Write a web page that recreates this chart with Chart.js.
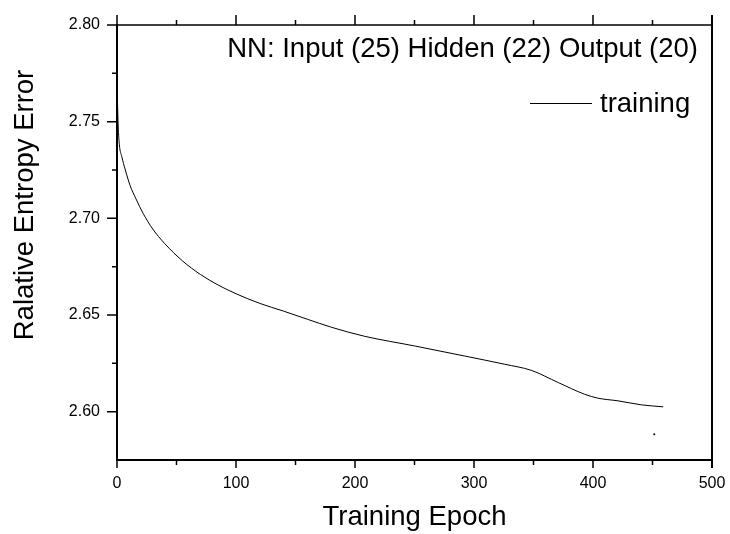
<!DOCTYPE html>
<html>
<head>
<meta charset="utf-8">
<script src="https://cdn.jsdelivr.net/npm/chart.js@4/dist/chart.umd.min.js"></script>
<style>
html,body{margin:0;padding:0;background:#fff;}
#wrap{width:730px;height:534px;}
</style>
</head>
<body>
<div id="wrap"><canvas id="c" width="730" height="534"></canvas></div>
<script>
// ---- data ----
const epochs = [0, 1, 2, 4, 7, 11, 16, 22, 30, 40, 55, 70, 85, 100, 120, 140, 160, 180, 208, 250, 292, 326, 348, 371, 393, 404, 421, 441, 459];
const trainingError = [2.770, 2.748, 2.738, 2.732, 2.725, 2.717, 2.710, 2.7025, 2.6945, 2.687, 2.678, 2.671, 2.6655, 2.661, 2.656, 2.652, 2.6478, 2.6437, 2.639, 2.634, 2.6288, 2.6245, 2.6214, 2.615, 2.609, 2.607, 2.6056, 2.6035, 2.6025];
const strayEpoch = [451.5];
const strayValue = [2.5883];
const xTickValues = [0, 100, 200, 300, 400, 500];
const xMinorValues = [50, 150, 250, 350, 450];
const yTickValues = [2.60, 2.65, 2.70, 2.75, 2.80];
const yMinorValues = [2.625, 2.675, 2.725, 2.775];
const seriesLabel = 'training';
const chartNote = 'NN: Input (25) Hidden (22) Output (20)';
const xTitle = 'Training Epoch';
const yTitle = 'Ralative Entropy Error';

const FONT = '"Liberation Sans", Arial, Helvetica, sans-serif';

const decor = {
  id: 'decor',
  afterDraw(chart) {
    const ctx = chart.ctx;
    const xs = chart.scales.x, ys = chart.scales.y;
    const a = chart.chartArea;
    ctx.save();
    ctx.strokeStyle = '#000';
    ctx.lineWidth = 1.5;
    ctx.beginPath();
    ctx.moveTo(a.left, a.top); ctx.lineTo(a.right, a.top);
    ctx.stroke();
    ctx.lineWidth = 2;
    ctx.beginPath();
    ctx.moveTo(a.right, a.top - 10); ctx.lineTo(a.right, a.bottom + 8);
    ctx.stroke();
    ctx.lineWidth = 1.5;
    ctx.beginPath();
    xTickValues.forEach(v => {
      const p = xs.getPixelForValue(v);
      ctx.moveTo(p, a.bottom); ctx.lineTo(p, a.bottom + 8);
      ctx.moveTo(p, a.top); ctx.lineTo(p, a.top - 10);
    });
    xMinorValues.forEach(v => {
      const p = xs.getPixelForValue(v);
      ctx.moveTo(p, a.bottom); ctx.lineTo(p, a.bottom + 5);
      ctx.moveTo(p, a.top); ctx.lineTo(p, a.top - 5);
    });
    yTickValues.forEach(v => {
      const p = ys.getPixelForValue(v);
      ctx.moveTo(a.left, p); ctx.lineTo(a.left - 10, p);
    });
    yMinorValues.forEach(v => {
      const p = ys.getPixelForValue(v);
      ctx.moveTo(a.left, p); ctx.lineTo(a.left - 5, p);
    });
    ctx.stroke();

    ctx.fillStyle = '#000';
    ctx.font = '27.5px ' + FONT;
    ctx.textAlign = 'right';
    ctx.textBaseline = 'alphabetic';
    ctx.fillText(chartNote, 698, 57);
    ctx.lineWidth = 1;
    ctx.beginPath();
    ctx.moveTo(530, 103.5); ctx.lineTo(592, 103.5);
    ctx.stroke();
    ctx.textAlign = 'left';
    ctx.fillText(seriesLabel, 600, 112);
    ctx.textAlign = 'center';
    ctx.fillText(xTitle, (a.left + a.right) / 2, 525);
    ctx.save();
    ctx.translate(33, 205);
    ctx.rotate(-Math.PI / 2);
    ctx.textAlign = 'center';
    ctx.fillText(yTitle, 0, 0);
    ctx.restore();
    ctx.restore();
  }
};

new Chart(document.getElementById('c'), {
  type: 'line',
  data: {
    datasets: [{
      label: seriesLabel,
      data: epochs.map((e, i) => ({x: e, y: trainingError[i]})),
      borderColor: '#000',
      borderWidth: 1,
      pointRadius: 0,
      fill: false,
      cubicInterpolationMode: 'monotone'
    }, {
      label: 'stray',
      data: strayEpoch.map((e, i) => ({x: e, y: strayValue[i]})),
      showLine: false,
      pointRadius: 1,
      pointBorderWidth: 0,
      pointBackgroundColor: '#000',
      borderColor: '#000'
    }]
  },
  options: {
    responsive: false,
    devicePixelRatio: 1,
    animation: false,
    layout: {padding: {top: 25, right: 18, left: 0, bottom: 0}},
    plugins: {legend: {display: false}, tooltip: {enabled: false}},
    scales: {
      x: {
        type: 'linear',
        min: 0, max: 500,
        grid: {display: false, drawTicks: false},
        border: {display: true, color: '#000', width: 2},
        afterBuildTicks: s => { s.ticks = xTickValues.map(v => ({value: v})); },
        ticks: {color: '#000', font: {family: FONT, size: 16}, padding: 14, maxRotation: 0,
          callback: v => String(v)},
        afterFit: s => { s.height = 74; s.paddingLeft = 0; s.paddingRight = 0; }
      },
      y: {
        type: 'linear',
        min: 2.575, max: 2.80,
        grid: {display: false, drawTicks: false},
        border: {display: true, color: '#000', width: 2},
        afterBuildTicks: s => { s.ticks = yTickValues.map(v => ({value: v})); },
        ticks: {color: '#000', font: {family: FONT, size: 16}, padding: 17,
          callback: v => Number(v).toFixed(2)},
        afterFit: s => { s.width = 117; s.paddingTop = 0; s.paddingBottom = 0; }
      }
    }
  },
  plugins: [decor]
});
</script>
</body>
</html>
